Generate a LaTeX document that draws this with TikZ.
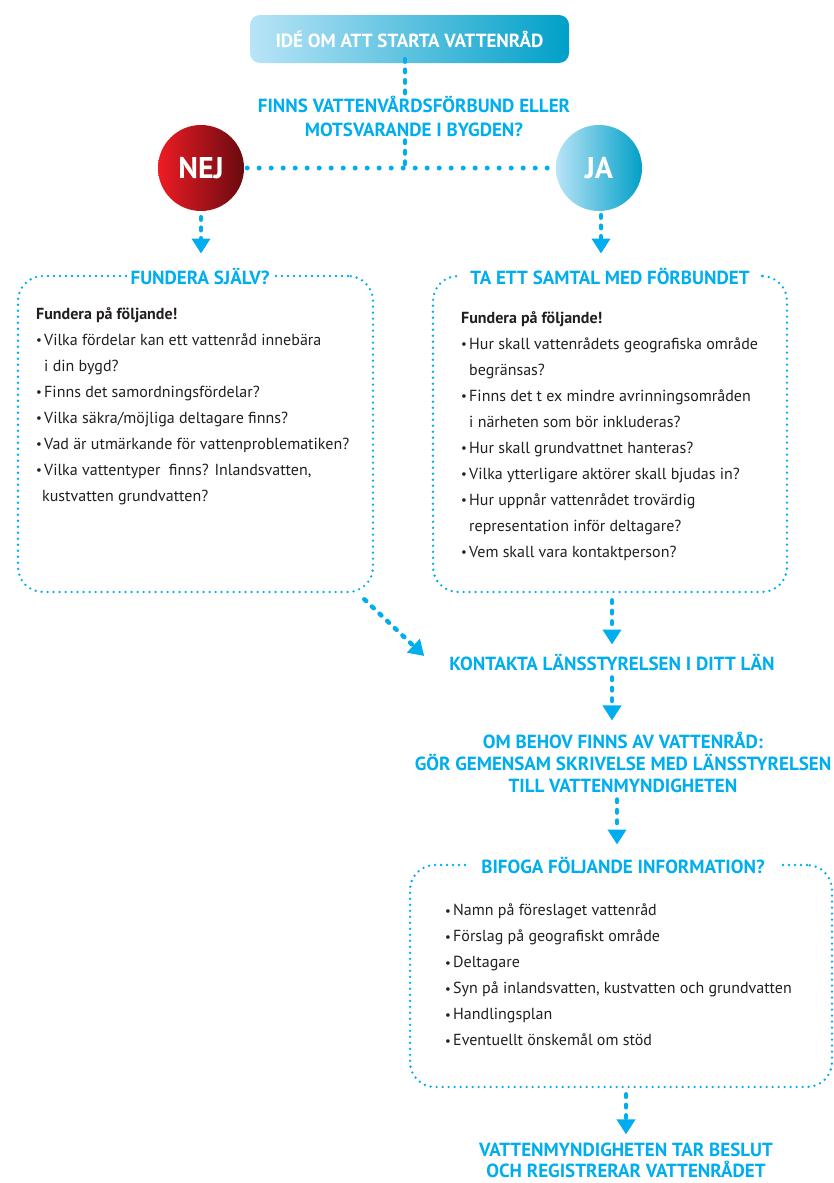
\documentclass[tikz,border=0pt]{standalone}
\usepackage{fontspec}
\setmainfont{PT Sans}
\usetikzlibrary{arrows.meta,shapes.geometric}
\definecolor{cy}{HTML}{00AEEF}
\definecolor{txt}{HTML}{231F20}
\definecolor{lb}{RGB}{185,228,247}
\definecolor{db}{RGB}{0,160,200}
\definecolor{rd}{RGB}{237,28,36}
\definecolor{mr}{RGB}{105,10,16}
\newcommand{\bul}{\makebox[8pt][l]{\raisebox{0.5pt}{\scalebox{0.8}{•}}}}
\newcommand{\ind}{\hspace*{8pt}}
\begin{document}
\begin{tikzpicture}[x=1pt,y=-1pt,
 head/.style={text=cy, font=\bfseries\fontsize{19}{22}\selectfont, align=center, inner sep=2pt},
 boxtitle/.style={head, fill=white, inner xsep=6pt},
 body/.style={text=txt, font=\fontsize{16}{26}\selectfont, align=left, anchor=north west, inner sep=0pt},
 frame/.style={draw=cy, line width=2.6pt, dash pattern=on 0pt off 6pt, line cap=round, rounded corners=25pt},
 conn/.style={draw=cy, line width=4.5pt, dash pattern=on 2.5pt off 8pt, line cap=round},
 hdots/.style={draw=cy, line width=5pt, dash pattern=on 0pt off 12pt, line cap=round},
 arr/.style={conn, -{Triangle[width=18pt,length=15pt]}},
 ball/.style={circle, minimum size=86pt, text=white, font=\bfseries\fontsize{30}{32}\selectfont}]
\useasboundingbox[fill=white] (0,0) rectangle (834,1183);

% top
\node[rounded corners=10pt, left color=lb, right color=db, minimum width=319pt, minimum height=48pt,
  text=white, font=\bfseries\fontsize{19}{22}\selectfont] (idea) at (409.5,39) {IDÉ OM ATT STARTA VATTENRÅD};
\node[head, font=\bfseries\fontsize{19}{24}\selectfont] (q) at (414,116) {FINNS VATTENVÅRDSFÖRBUND ELLER\\MOTSVARANDE I BYGDEN?};
\node[ball, left color=rd, right color=mr] (nej) at (201,168) {NEJ};
\node[ball, left color=lb, right color=db] (ja) at (599,168) {JA};
\coordinate (junc) at (405,168);

\draw[conn] (idea.south -| junc) ++(0,-4) -- (q.north -| junc);
\draw[conn, shorten <=2pt] (q.south -| junc) -- (junc);
\draw[hdots, shorten <=3pt, shorten >=3pt] (nej.east) -- (ja.west);

% left box
\node[frame, minimum width=355pt, minimum height=316pt] (lbox) at (195.5,434) {};
\node[boxtitle, inner xsep=4pt] (lt) at (200,276) {FUNDERA SJÄLV?};
\node[body] (lbody) at (36,307) {\textbf{Fundera på följande!}\\
\bul Vilka fördelar kan ett vattenråd innebära\\
\ind i din bygd?\\
\bul Finns det samordningsfördelar?\\
\bul Vilka säkra/möjliga deltagare finns?\\
\bul Vad är utmärkande för vattenproblematiken?\\
\bul Vilka vattentyper\ \ finns? Inlandsvatten,\\
\hspace*{6pt}kustvatten grundvatten?};

% right box
\node[frame, minimum width=354pt, minimum height=316pt] (rbox) at (610,434) {};
\node[boxtitle, inner xsep=10pt] (rt) at (610,276) {TA ETT SAMTAL MED FÖRBUNDET};
\node[body] (rbody) at (461,311) {\textbf{Fundera på följande!}\\
\bul Hur skall vattenrådets geografiska område\\
\ind begränsas?\\
\bul Finns det t ex mindre avrinningsområden\\
\ind i närheten som bör inkluderas?\\
\bul Hur skall grundvattnet hanteras?\\
\bul Vilka ytterligare aktörer skall bjudas in?\\
\bul Hur uppnår vattenrådet trovärdig\\
\ind representation inför deltagare?\\
\bul Vem skall vara kontaktperson?};

\draw[arr, shorten <=6pt, shorten >=12pt] (nej.south) -- (nej.south |- lt.north);
\draw[arr, shorten <=4pt, shorten >=12pt] (ja.south -| 601,0) -- (rt.north -| 601,0);

% middle
\node[head] (kont) at (612,662) {KONTAKTA LÄNSSTYRELSEN I DITT LÄN};
\node[head, font=\bfseries\fontsize{19}{22}\selectfont] (om) at (623,762) {OM BEHOV FINNS AV VATTENRÅD:\\GÖR GEMENSAM SKRIVELSE MED LÄNSSTYRELSEN\\TILL VATTENMYNDIGHETEN};
\draw[arr, shorten <=7pt, shorten >=7pt] (rbox.south -| kont) -- (kont.north);
\draw[arr] ([xshift=-10pt,yshift=-6pt]lbox.south east) -- ([xshift=-23pt,yshift=6pt]kont.west);
\draw[arr, shorten <=5pt, shorten >=9pt] (kont.south) -- (kont.south |- om.north);

% bottom box
\node[frame, minimum width=422pt, minimum height=222pt] (bbox) at (621,976) {};
\node[boxtitle, inner xsep=14pt] (bt) at (623,865) {BIFOGA FÖLJANDE INFORMATION?};
\node[body] (bbody) at (445,904) {\bul Namn på föreslaget vattenråd\\
\bul Förslag på geografiskt område\\
\bul Deltagare\\
\bul Syn på inlandsvatten, kustvatten och grundvatten\\
\bul Handlingsplan\\
\bul Eventuellt önskemål om stöd};
\draw[arr, shorten <=5pt, shorten >=10pt] (om.south -| 617,0) -- (bt.north -| 617,0);

\node[head, font=\bfseries\fontsize{19}{21}\selectfont] (fin) at (626,1160) {VATTENMYNDIGHETEN TAR BESLUT\\OCH REGISTRERAR VATTENRÅDET};
\draw[arr, shorten <=6pt, shorten >=6pt] (bbox.south -| fin) -- (fin.north);
\end{tikzpicture}
\end{document}
